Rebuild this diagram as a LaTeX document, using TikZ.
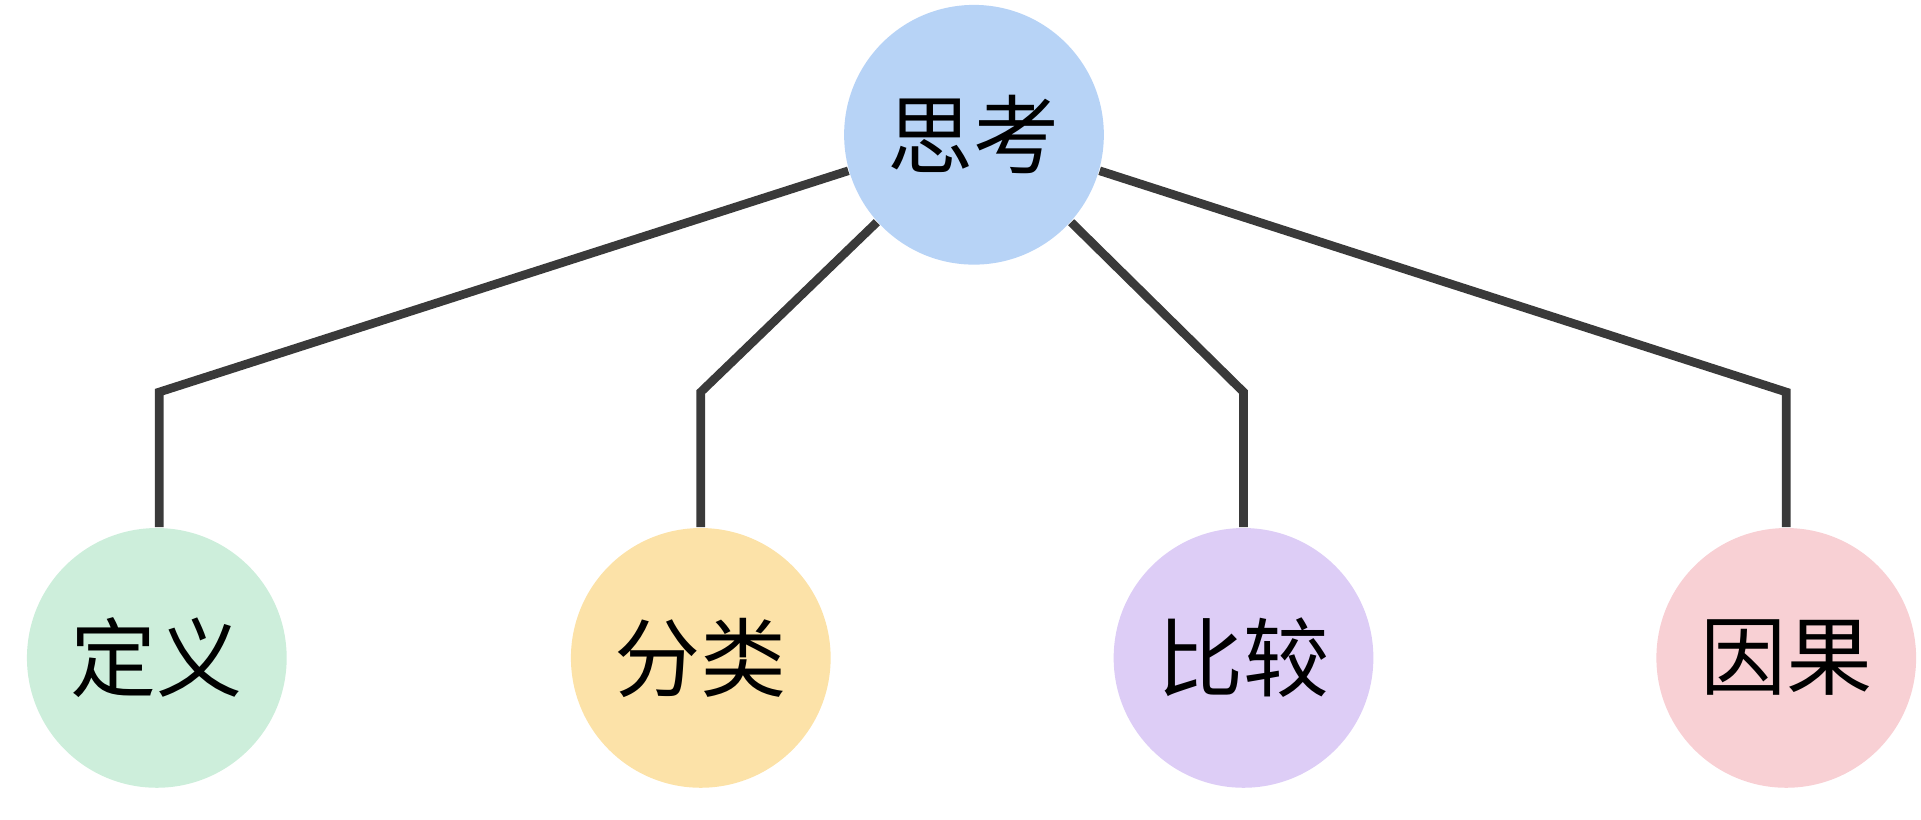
\documentclass[tikz,border=0pt]{standalone}
\usepackage{fontspec}
\newfontfamily\cjk{Noto Sans CJK SC}
\usetikzlibrary{positioning}
\definecolor{topblue}{HTML}{B7D3F6}
\definecolor{dygreen}{HTML}{CDEEDB}
\definecolor{flyellow}{HTML}{FCE2A8}
\definecolor{bjpurple}{HTML}{DDCDF6}
\definecolor{ygpink}{HTML}{F8D0D4}
\definecolor{linkgray}{HTML}{3A3A3A}
\tikzset{
  topic/.style={circle,minimum size=2.12cm,inner sep=0,font=\cjk\fontsize{20}{22}\selectfont},
  link/.style={draw=linkgray,line width=2pt}
}

\begin{document}
\begin{tikzpicture}
		\useasboundingbox (0,0) rectangle (15.68,6.69);
		\node[topic,fill=topblue] (sikao) at (7.95,5.59) {思考};
		\node[topic,fill=dygreen] (dingyi) at (1.28,1.32) {定义};
		\node[topic,fill=flyellow] (fenlei) at (5.72,1.32) {分类};
		\node[topic,fill=bjpurple] (bijiao) at (10.15,1.32) {比较};
		\node[topic,fill=ygpink] (yinguo) at (14.58,1.32) {因果};
		
		% bend points
		\coordinate (dingyibend) at (1.30,3.49);
		\coordinate (fenleibend) at (5.72,3.49);
		\coordinate (bijiaobend) at (10.15,3.49);
		\coordinate (yinguobend) at (14.58,3.49);
		
		% links
		\draw[link] (sikao.196) -- (dingyibend) -- (dingyibend |- dingyi.north);
		\draw[link] (sikao.222) -- (fenleibend) -- (fenleibend |- fenlei.north);
		\draw[link] (sikao.318) -- (bijiaobend) -- (bijiaobend |- bijiao.north);
		\draw[link] (sikao.344) -- (yinguobend) -- (yinguobend |- yinguo.north);
	\end{tikzpicture}
\end{document}
